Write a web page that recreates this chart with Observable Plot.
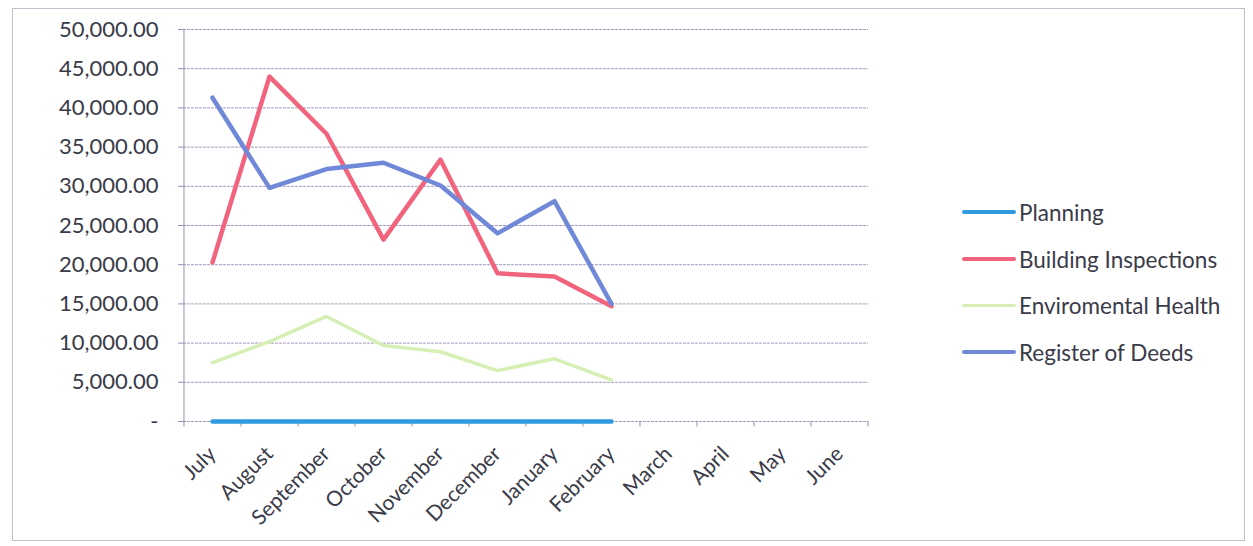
<!DOCTYPE html>
<html><head><meta charset="utf-8">
<script src="https://cdn.jsdelivr.net/npm/d3@7"></script>
<script src="https://cdn.jsdelivr.net/npm/@observablehq/plot@0.6"></script>
<style>
body{margin:0;background:#fff;font-family:Lato,"Open Sans",sans-serif;}
#wrap{position:relative;width:1253px;height:546px;}
#border{position:absolute;left:12px;top:8px;width:1233px;height:533px;border:1px solid #c4bccf;box-sizing:border-box;pointer-events:none;}
#legend{position:absolute;left:962px;top:189px;font-size:22.5px;color:#3a3a48;}
.li{display:flex;align-items:center;height:46.7px;}
.sw{width:54px;height:4px;border-radius:2px;margin-right:3px;}
</style></head>
<body><div id="wrap"><div id="chart"></div><div id="border"></div><div id="legend"></div></div>
<script>
const months = ["July","August","September","October","November","December","January","February","March","April","May","June"];
const seriesNames = ["Planning","Building Inspections","Enviromental Health","Register of Deeds"];
const colors = ["#2f9ae0","#f2647e","#d6efb4","#7088d8"];
const planning = [0,0,0,0,0,0,0,0];
const buildingInspections = [20300,44000,36700,23200,33400,18900,18500,14700];
const environmentalHealth = [7500,10200,13400,9700,8900,6500,8000,5300];
const registerOfDeeds = [41300,29800,32200,33000,30100,24000,28100,15000];
const yTicks = [0,5000,10000,15000,20000,25000,30000,35000,40000,45000,50000];

const allSeries = [planning, buildingInspections, environmentalHealth, registerOfDeeds];
const data = [];
allSeries.forEach((vals, i) => vals.forEach((v, j) => data.push({series: seriesNames[i], month: months[j], value: v})));

const W = 1253, H = 546, mL = 183, mR = 385, mT = 29, mB = 125;
const step = (W - mL - mR) / months.length;
const grid = "#9a8cb6";
const fmt = v => v === 0 ? "-" : d3.format(",.2f")(v);

const plot = Plot.plot({
  width: W, height: H,
  marginLeft: mL, marginRight: mR, marginTop: mT, marginBottom: mB,
  style: {fontFamily: "Lato, 'Open Sans', sans-serif", background: "transparent", color: "#3a3a48"},
  x: {type: "point", domain: months, padding: 0.5, label: null},
  y: {domain: [0, 50000], label: null},
  color: {domain: seriesNames, range: colors},
  marks: [
    Plot.gridY(yTicks, {stroke: grid, strokeOpacity: 0.9, strokeDasharray: "3,1"}),
    Plot.axisY(yTicks, {tickFormat: fmt, tickSize: 5, stroke: grid, fontSize: 22, tickPadding: 20, label: null}),
    Plot.axisX({tickSize: 0, tickRotate: -45, fontSize: 21, tickPadding: 29, dx: 0, label: null}),
    Plot.ruleX(months, {x: d => d, y1: 0, y2: -700, dx: -step / 2, stroke: grid}),
    Plot.ruleX([months[months.length - 1]], {x: d => d, y1: 0, y2: -700, dx: step / 2, stroke: grid}),
    Plot.ruleX([months[0]], {x: d => d, y1: 0, y2: 50000, dx: -step / 2, stroke: grid}),
    Plot.line(data.filter(d => d.series !== "Enviromental Health"), {x: "month", y: "value", z: "series", stroke: "series", strokeWidth: 4.5, strokeLinejoin: "round", strokeLinecap: "round"}),
    Plot.line(data.filter(d => d.series === "Enviromental Health"), {x: "month", y: "value", stroke: "series", strokeWidth: 3.5, strokeLinejoin: "round"})
  ]
});
document.getElementById("chart").appendChild(plot);

const leg = document.getElementById("legend");
seriesNames.forEach((n, i) => {
  const row = document.createElement("div"); row.className = "li";
  const sw = document.createElement("div"); sw.className = "sw"; sw.style.background = colors[i];
  if (i === 2) sw.style.height = "3px";
  const t = document.createElement("span"); t.textContent = n;
  row.appendChild(sw); row.appendChild(t); leg.appendChild(row);
});
</script></body></html>
